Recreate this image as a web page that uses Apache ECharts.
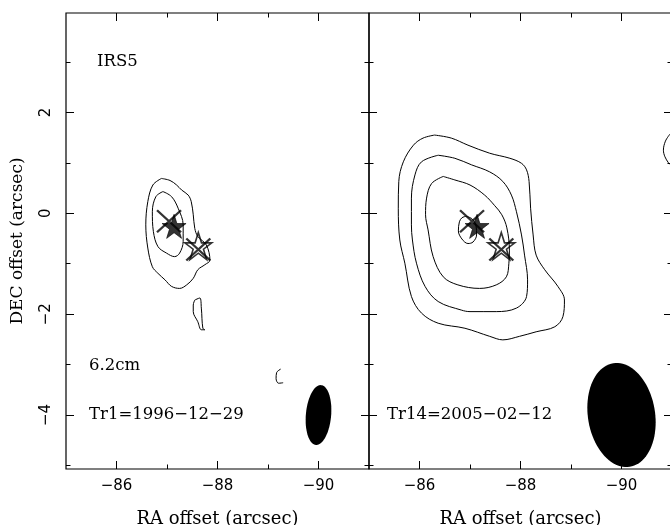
<!DOCTYPE html>
<html>
<head>
<meta charset="utf-8">
<script src="https://cdn.jsdelivr.net/npm/echarts@6/dist/echarts.min.js"></script>
<style>html,body{margin:0;padding:0;background:#fff;}#c{width:670px;height:525px;}</style>
</head>
<body>
<div id="c"></div>
<script>
// ---------- data ----------
const raTicksMajor = [-86, -88, -90];
const raTicksMinor = [-87, -89];
const decTicksMajor = [-4, -2, 0, 2];
const decTicksMinor = [-5, -3, -1, 1, 3];

// Tr1 (1996-12-29) contours
const tr1Outer = [[-86.89,0.69],[-87.06,0.65],[-87.19,0.56],[-87.29,0.46],[-87.42,0.36],[-87.48,0.23],[-87.52,-0.03],[-87.55,-0.30],[-87.61,-0.46],[-87.78,-0.63],[-87.85,-0.93],[-87.75,-1.02],[-87.61,-1.12],[-87.52,-1.29],[-87.39,-1.42],[-87.25,-1.49],[-87.09,-1.45],[-86.96,-1.32],[-86.82,-1.19],[-86.71,-1.06],[-86.62,-0.69],[-86.58,-0.23],[-86.62,0.23],[-86.72,0.56],[-86.89,0.69]];
const tr1Inner = [[-86.92,0.43],[-87.09,0.33],[-87.22,0.10],[-87.32,-0.23],[-87.32,-0.56],[-87.25,-0.79],[-87.15,-0.86],[-86.99,-0.79],[-86.82,-0.66],[-86.73,-0.36],[-86.71,0.03],[-86.78,0.33],[-86.92,0.43]];
const tr1Blob = [[-87.55,-1.72],[-87.65,-1.68],[-87.68,-1.88],[-87.71,-2.28],[-87.75,-2.31],[-87.68,-2.31],[-87.61,-2.15],[-87.52,-1.95],[-87.52,-1.82],[-87.55,-1.72]];
const tr1Arc = [[-89.25,-3.09],[-89.17,-3.16],[-89.16,-3.28],[-89.21,-3.37],[-89.30,-3.36]];

// Tr14 (2005-02-12) contours
const tr14Outer = [[-86.30,1.55],[-86.63,1.49],[-86.96,1.35],[-87.39,1.19],[-87.79,1.09],[-88.02,0.99],[-88.12,0.86],[-88.17,0.63],[-88.20,0.10],[-88.25,-0.43],[-88.31,-0.83],[-88.48,-1.12],[-88.74,-1.45],[-88.87,-1.72],[-88.84,-2.05],[-88.68,-2.25],[-88.31,-2.35],[-87.98,-2.44],[-87.65,-2.51],[-87.39,-2.44],[-86.90,-2.28],[-86.37,-2.18],[-86.04,-1.98],[-85.84,-1.65],[-85.71,-0.99],[-85.61,-0.53],[-85.58,0.10],[-85.59,0.63],[-85.68,1.02],[-85.88,1.35],[-86.07,1.49],[-86.30,1.55]];
const tr14Mid = [[-86.37,1.15],[-86.70,1.09],[-87.03,0.96],[-87.39,0.82],[-87.65,0.63],[-87.82,0.36],[-87.92,0.03],[-88.02,-0.43],[-88.08,-0.83],[-88.14,-1.32],[-88.12,-1.65],[-87.92,-1.88],[-87.52,-1.95],[-87.00,-1.95],[-86.83,-1.92],[-86.37,-1.75],[-86.11,-1.45],[-85.94,-0.99],[-85.86,-0.53],[-85.84,-0.23],[-85.84,0.30],[-85.91,0.76],[-86.04,1.02],[-86.37,1.15]];
const tr14Inner = [[-86.47,0.73],[-86.70,0.66],[-87.00,0.56],[-87.29,0.36],[-87.49,0.15],[-87.63,-0.03],[-87.73,-0.29],[-87.78,-0.73],[-87.77,-0.99],[-87.72,-1.26],[-87.52,-1.42],[-87.19,-1.49],[-86.76,-1.42],[-86.47,-1.26],[-86.27,-0.86],[-86.17,-0.33],[-86.12,-0.03],[-86.14,0.30],[-86.24,0.59],[-86.47,0.73]];
const tr14Core = [[-86.92,-0.06],[-87.04,-0.11],[-87.12,-0.25],[-87.13,-0.43],[-87.06,-0.57],[-86.96,-0.60],[-86.84,-0.51],[-86.77,-0.35],[-86.79,-0.17],[-86.84,-0.09],[-86.92,-0.06]];
const tr14Edge = [[-90.96,1.57],[-90.87,1.43],[-90.83,1.25],[-90.86,1.12],[-90.93,1.00],[-90.97,0.96]];

// source positions
const filledStar = [[-87.14,-0.26]];
const openStar = [[-87.62,-0.65]];
const crosses = [[-87.04,-0.16],[-87.62,-0.72]];

// beams: [ra, dec, major, minor, PA(deg)]
const beamTr1 = [[-90.0,-4.0,1.19,0.50,-5]];
const beamTr14 = [[-90.0,-4.0,2.08,1.33,9]];

// ---------- chart ----------
const fmt = v => (v < 0 ? '\u2212' + Math.abs(v) : String(v));
const black = '#000';
const tickStyle = {color: black, width: 1};

function xAxesFor(g) {
  const base = {gridIndex: g, type: 'value', min: -91, max: -85, inverse: true,
    splitLine: {show: false}, axisLine: {show: false, onZero: false}};
  return [
    Object.assign({}, base, {position: 'bottom',
      axisTick: {show: true, inside: true, length: 8, customValues: raTicksMajor, lineStyle: tickStyle},
      axisLabel: {show: true, customValues: raTicksMajor, formatter: fmt, fontFamily: 'DejaVu Sans', fontSize: 15, color: black, margin: 10},
      name: 'RA offset (arcsec)', nameLocation: 'middle', nameGap: 41,
      nameTextStyle: {fontFamily: 'DejaVu Serif', fontSize: 18, color: black}}),
    Object.assign({}, base, {position: 'bottom',
      axisTick: {show: true, inside: true, length: 4.5, customValues: raTicksMinor, lineStyle: tickStyle},
      axisLabel: {show: false}}),
    Object.assign({}, base, {position: 'top',
      axisTick: {show: true, inside: true, length: 8, customValues: raTicksMajor, lineStyle: tickStyle},
      axisLabel: {show: false}}),
    Object.assign({}, base, {position: 'top',
      axisTick: {show: true, inside: true, length: 4.5, customValues: raTicksMinor, lineStyle: tickStyle},
      axisLabel: {show: false}})
  ];
}
function yAxesFor(g, labels) {
  const base = {gridIndex: g, type: 'value', min: -5.07, max: 3.97,
    splitLine: {show: false}, axisLine: {show: false, onZero: false}};
  const main = Object.assign({}, base, {position: 'left',
    axisTick: {show: true, inside: true, length: 8, customValues: decTicksMajor, lineStyle: tickStyle},
    axisLabel: {show: labels, customValues: decTicksMajor, formatter: fmt, rotate: 90, fontFamily: 'DejaVu Sans', fontSize: 15, color: black, margin: 12}});
  if (labels) {
    Object.assign(main, {name: 'DEC offset (arcsec)', nameLocation: 'middle', nameGap: 40,
      nameTextStyle: {fontFamily: 'DejaVu Serif', fontSize: 17, color: black}});
  }
  return [
    main,
    Object.assign({}, base, {position: 'left',
      axisTick: {show: true, inside: true, length: 4.5, customValues: decTicksMinor, lineStyle: tickStyle},
      axisLabel: {show: false}}),
    Object.assign({}, base, {position: 'right',
      axisTick: {show: true, inside: true, length: 8, customValues: decTicksMajor, lineStyle: tickStyle},
      axisLabel: {show: false}}),
    Object.assign({}, base, {position: 'right',
      axisTick: {show: true, inside: true, length: 4.5, customValues: decTicksMinor, lineStyle: tickStyle},
      axisLabel: {show: false}})
  ];
}

function contour(data, g) {
  return {type: 'line', xAxisIndex: g * 4, yAxisIndex: g * 4, data: data, smooth: 0.35,
    showSymbol: false, symbol: 'none', lineStyle: {color: black, width: 1}, silent: true, z: 2};
}

function beamItem(params, api) {
  const c = api.coord([api.value(0), api.value(1)]);
  const s = api.size([1, 1]);
  const a = api.value(2) / 2 * s[1];
  const b = api.value(3) / 2 * s[0];
  const pa = api.value(4) * Math.PI / 180;
  const ux = -Math.sin(pa), uy = -Math.cos(pa);
  const vx = -uy, vy = ux;
  const pts = [];
  for (let k = 0; k < 90; k++) {
    const t = k / 90 * Math.PI * 2;
    pts.push([c[0] + a * Math.cos(t) * ux + b * Math.sin(t) * vx,
              c[1] + a * Math.cos(t) * uy + b * Math.sin(t) * vy]);
  }
  return {type: 'polygon', shape: {points: pts}, style: {fill: black}};
}
function beam(data, g) {
  return {type: 'custom', xAxisIndex: g * 4, yAxisIndex: g * 4, data: data,
    renderItem: beamItem, encode: {x: 0, y: 1}, silent: true, z: 3};
}

const starPath = 'path://M50,0 L61.23,34.55 L97.55,34.55 L68.17,55.9 L79.39,90.45 L50,69.1 L20.61,90.45 L31.83,55.9 L2.45,34.55 L38.77,34.55 Z';
const crossPath = 'path://M0,0L10,10M10,0L0,10';

function markers(g) {
  return [
    {type: 'scatter', xAxisIndex: g * 4, yAxisIndex: g * 4, data: filledStar, symbol: starPath,
      symbolSize: 24, itemStyle: {color: black, borderColor: black, borderWidth: 0.8}, silent: true, z: 5},
    {type: 'scatter', xAxisIndex: g * 4, yAxisIndex: g * 4, data: openStar, symbol: starPath,
      symbolSize: 27, itemStyle: {color: 'transparent', borderColor: black, borderWidth: 1.6}, silent: true, z: 5},
    {type: 'scatter', xAxisIndex: g * 4, yAxisIndex: g * 4, data: crosses, symbol: crossPath,
      symbolSize: [24, 22], itemStyle: {color: 'none', borderColor: black, borderWidth: 2.2}, silent: true, z: 6}
  ];
}

const textStyle = {fontFamily: 'DejaVu Serif', fontSize: 16.5, fill: black, verticalAlign: 'middle'};
const gridCommon = {top: 13, width: 303, height: 456, show: true, borderColor: black, borderWidth: 1.2,
  backgroundColor: 'transparent', containLabel: false, outerBoundsMode: 'none'};
const option = {
  animation: false,
  backgroundColor: '#fff',
  grid: [
    Object.assign({left: 66}, gridCommon),
    Object.assign({left: 369}, gridCommon)
  ],
  xAxis: xAxesFor(0).concat(xAxesFor(1)),
  yAxis: yAxesFor(0, true).concat(yAxesFor(1, false)),
  graphic: [
    {type: 'text', x: 97, y: 62, style: Object.assign({text: 'IRS5'}, textStyle)},
    {type: 'text', x: 89, y: 366, style: Object.assign({text: '6.2cm'}, textStyle)},
    {type: 'text', x: 89, y: 415, style: Object.assign({text: 'Tr1=1996\u221212\u221229'}, textStyle)},
    {type: 'text', x: 387, y: 415, style: Object.assign({text: 'Tr14=2005\u221202\u221212'}, textStyle)}
  ],
  series: [
    contour(tr1Outer, 0), contour(tr1Inner, 0), contour(tr1Blob, 0), contour(tr1Arc, 0),
    beam(beamTr1, 0)
  ].concat(markers(0)).concat([
    contour(tr14Outer, 1), contour(tr14Mid, 1), contour(tr14Inner, 1), contour(tr14Core, 1), contour(tr14Edge, 1),
    beam(beamTr14, 1)
  ]).concat(markers(1))
};
const chart = echarts.init(document.getElementById('c'), null, {renderer: 'canvas'});
chart.setOption(option);
</script>
</body>
</html>
